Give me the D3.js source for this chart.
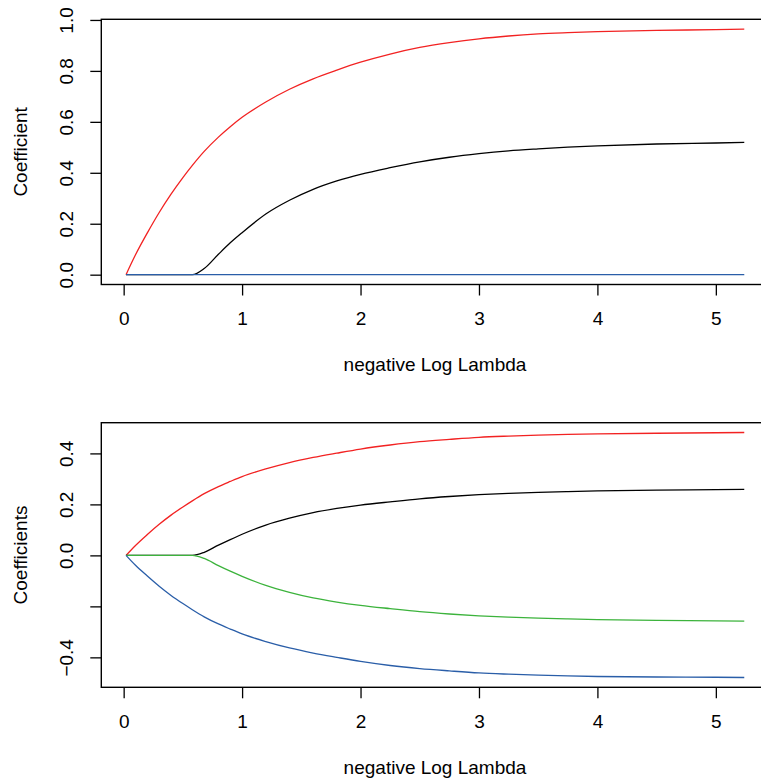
<!DOCTYPE html>
<meta charset="utf-8">
<style>
    body {
        margin: 0;
        background-color: white;
        font-family: "Liberation Sans", Arial, Helvetica, sans-serif;
    }

    text {
        font-size: 19px;
        fill: #000;
    }
</style>

<body>
    <svg id="chart" width="761" height="782"></svg>
</body>

<script src="https://cdn.jsdelivr.net/npm/d3@7"></script>
<script>
    // negative log lambda grid
    var lambdas = [0.02, 0.1, 0.2, 0.3, 0.4, 0.5, 0.58, 0.68, 0.8, 0.9, 1.0, 1.2, 1.4, 1.6, 1.8, 2.0,
        2.25, 2.5, 2.75, 3.0, 3.25, 3.5, 3.75, 4.0, 4.5, 5.0, 5.24];

    // top panel
    var topRed = [0, 0.078, 0.164, 0.244, 0.316, 0.381, 0.429, 0.484, 0.54, 0.581, 0.618, 0.678, 0.728,
        0.769, 0.803, 0.834, 0.866, 0.892, 0.911, 0.926, 0.937, 0.945, 0.950, 0.954, 0.959, 0.962, 0.964];
    var topBlack = [0, 0, 0, 0, 0, 0, 0, 0.024, 0.08, 0.125, 0.165, 0.238, 0.292, 0.335, 0.368, 0.394,
        0.42, 0.443, 0.461, 0.475, 0.486, 0.494, 0.501, 0.506, 0.513, 0.517, 0.519];
    var topBlue = [0, 0, 0, 0, 0, 0, 0, 0, 0, 0, 0, 0, 0, 0, 0, 0, 0, 0, 0, 0, 0, 0, 0, 0, 0, 0, 0];

    // bottom panel
    var botRed = [0, 0.039, 0.082, 0.122, 0.158, 0.19, 0.214, 0.242, 0.27, 0.29, 0.309, 0.339, 0.364,
        0.384, 0.401, 0.417, 0.433, 0.446, 0.455, 0.463, 0.468, 0.472, 0.475, 0.477, 0.479, 0.481, 0.482];
    var botBlack = [0, 0, 0, 0, 0, 0, 0, 0.012, 0.04, 0.062, 0.083, 0.119, 0.146, 0.168, 0.184, 0.197,
        0.21, 0.222, 0.231, 0.238, 0.243, 0.247, 0.25, 0.253, 0.256, 0.258, 0.259];
    var botGreen = [0, 0, 0, 0, 0, 0, 0, -0.012, -0.04, -0.062, -0.082, -0.118, -0.145, -0.167, -0.183,
        -0.196, -0.209, -0.221, -0.23, -0.237, -0.242, -0.246, -0.249, -0.252, -0.255, -0.257, -0.258];
    var botBlue = [0, -0.039, -0.081, -0.121, -0.157, -0.189, -0.213, -0.241, -0.269, -0.289, -0.308,
        -0.338, -0.363, -0.383, -0.4, -0.416, -0.432, -0.444, -0.453, -0.461, -0.466, -0.47, -0.473,
        -0.475, -0.477, -0.478, -0.479];

    var xTicks = [0, 1, 2, 3, 4, 5];
    var topTicks = [0, 0.2, 0.4, 0.6, 0.8, 1.0],
        topTickLabels = ["0.0", "0.2", "0.4", "0.6", "0.8", "1.0"];
    var botTicks = [-0.4, -0.2, 0, 0.2, 0.4],
        botTickLabels = ["\u22120.4", "", "0.0", "0.2", "0.4"];

    var svg = d3.select("#chart");

    // R style: 4% padding on both axes
    function padded(ext) {
        var p = (ext[1] - ext[0]) * 0.04;
        return [ext[0] - p, ext[1] + p];
    }

    function panel(top, bottom, series, yTicks, yLabels, yTitle) {
        var left = 101.3, right = 769;
        var allY = d3.merge(series.map(function (s) { return s.values; }));

        var x = d3.scaleLinear().domain(padded(d3.extent(lambdas))).range([left, right]);
        var y = d3.scaleLinear().domain(padded(d3.extent(allY))).range([bottom, top]);

        var g = svg.append("g");

        var line = d3.line()
            .x(function (d) { return x(d[0]); })
            .y(function (d) { return y(d[1]); })
            .curve(d3.curveMonotoneX);

        series.forEach(function (s) {
            g.append("path")
                .datum(d3.zip(lambdas, s.values))
                .attr("d", line)
                .attr("fill", "none")
                .attr("stroke", s.color)
                .attr("stroke-width", 1.3);
        });

        // box
        g.append("rect")
            .attr("x", left).attr("y", top)
            .attr("width", right - left).attr("height", bottom - top)
            .attr("fill", "none").attr("stroke", "#000").attr("stroke-width", 1.4);

        // x axis
        var xa = g.append("g").attr("transform", "translate(0," + bottom + ")")
            .call(d3.axisBottom(x).tickValues(xTicks).tickSize(11).tickPadding(16).tickFormat(d3.format("d")));
        xa.select(".domain").remove();
        xa.selectAll("line").attr("stroke-width", 1.3);
        xa.selectAll("text").attr("font-size", 19).attr("font-family", null);

        // y axis, labels parallel to axis
        var ya = g.append("g").attr("transform", "translate(" + left + ",0)")
            .call(d3.axisLeft(y).tickValues(yTicks).tickSize(11).tickFormat(function (d, i) {
                return yLabels[i];
            }));
        ya.select(".domain").remove();
        ya.selectAll("line").attr("stroke-width", 1.3);
        ya.selectAll("text")
            .attr("x", null).attr("dy", null)
            .attr("font-size", 19).attr("font-family", null)
            .attr("text-anchor", "middle")
            .attr("dominant-baseline", "central")
            .attr("transform", "translate(-34.6,0) rotate(-90)");

        svg.append("text")
            .attr("transform", "translate(20," + ((top + bottom) / 2) + ") rotate(-90)")
            .attr("text-anchor", "middle")
            .attr("dominant-baseline", "central")
            .text(yTitle);

        svg.append("text")
            .attr("x", 435)
            .attr("y", bottom + 80)
            .attr("text-anchor", "middle")
            .attr("dominant-baseline", "central")
            .text("negative Log Lambda");
    }

    panel(19.3, 284.5, [
        { values: topRed, color: "#f22222" },
        { values: topBlack, color: "#000000" },
        { values: topBlue, color: "#2a5ea8" }
    ], topTicks, topTickLabels, "Coefficient");

    panel(422.7, 687.3, [
        { values: botRed, color: "#f22222" },
        { values: botBlack, color: "#000000" },
        { values: botGreen, color: "#3cb33c" },
        { values: botBlue, color: "#2a5ea8" }
    ], botTicks, botTickLabels, "Coefficients");
</script>
